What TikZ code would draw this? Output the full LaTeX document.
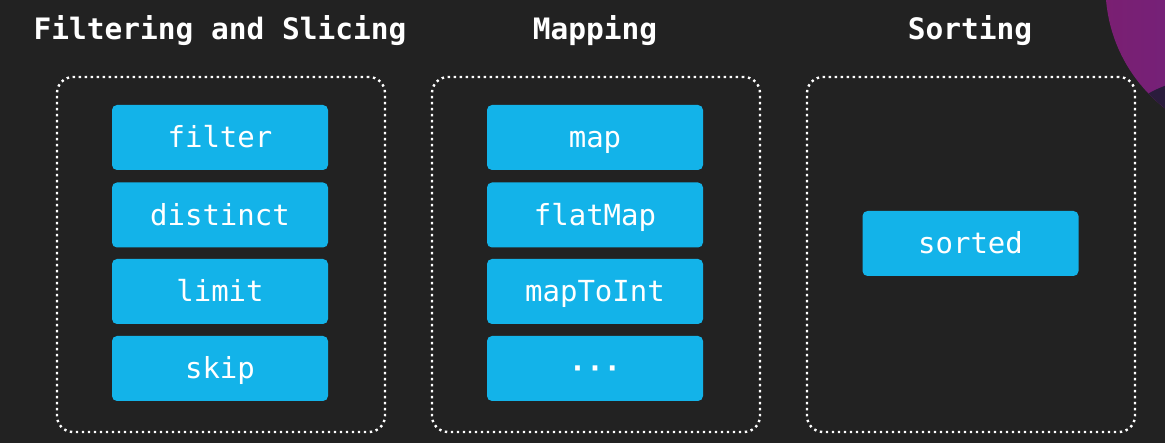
\documentclass[tikz,border=0pt]{standalone}
\usepackage{fontspec}
\setmonofont{DejaVu Sans Mono}
\usetikzlibrary{positioning}
\definecolor{bgdark}{HTML}{222222}
\definecolor{opblue}{HTML}{13B3E9}
\definecolor{violetA}{HTML}{7A1F72}
\definecolor{violetB}{HTML}{64288E}
\definecolor{violetdeep}{HTML}{2A1C3C}
\tikzset{
  title/.style={anchor=base, text=white, font=\ttfamily\bfseries\fontsize{29.5}{31}\selectfont},
  group/.style={draw=white, line width=2.4pt, dash pattern=on 2.4pt off 3.6pt,
    rounded corners=16pt, minimum width=328pt, minimum height=355pt, inner sep=0pt},
  opbox/.style={fill=opblue, rounded corners=5pt, minimum width=216pt, minimum height=65pt,
    inner sep=0pt, text=white, text height=21pt, text depth=0pt,
    font=\ttfamily\fontsize{29}{31}\selectfont},
}
\begin{document}
\begin{tikzpicture}[x=1pt, y=-1pt]
  % canvas
  \fill[bgdark] (0,0) rectangle (1165,443);
  \useasboundingbox (0,0) rectangle (1165,443);

  % violet disc in the top right corner
  \begin{scope}
    \clip (0,0) rectangle (1165,443);
    \shade[left color=violetA, right color=violetB] (1259,-13) circle[radius=153.5];
    \begin{scope}
      \clip (1259,-13) circle[radius=153.5];
      \fill[violetdeep] (1120,112) .. controls (1140,98) and (1152,90) .. (1170,84) -- (1170,160) -- (1120,160) -- cycle;
    \end{scope}
  \end{scope}

  % column titles
  \node[title] (t1) at (220,40) {Filtering and Slicing};
  \node[title] (t2) at (595,40) {Mapping};
  \node[title] (t3) at (970,40) {Sorting};

  % dotted group frames
  \node[group] (g1) at (221,254.5) {};
  \node[group] (g2) at (596,254.5) {};
  \node[group] (g3) at (971,254.5) {};

  % filtering and slicing
  \node[opbox] (filter)   at (220,137.5) {filter};
  \node[opbox] (distinct) at (220,215)   {distinct};
  \node[opbox] (limit)    at (220,291.5) {limit};
  \node[opbox] (skip)     at (220,368.5) {skip};

  % mapping
  \node[opbox] (map)      at (595,137.5) {map};
  \node[opbox] (flatmap)  at (595,215)   {flatMap};
  \node[opbox] (maptoint) at (595,291.5) {mapToInt};
  \node[opbox] (more)     at (595,368.5) {\bfseries ···};

  % sorting
  \node[opbox] (sorted)   at (970.5,243.5) {sorted};
\end{tikzpicture}
\end{document}
